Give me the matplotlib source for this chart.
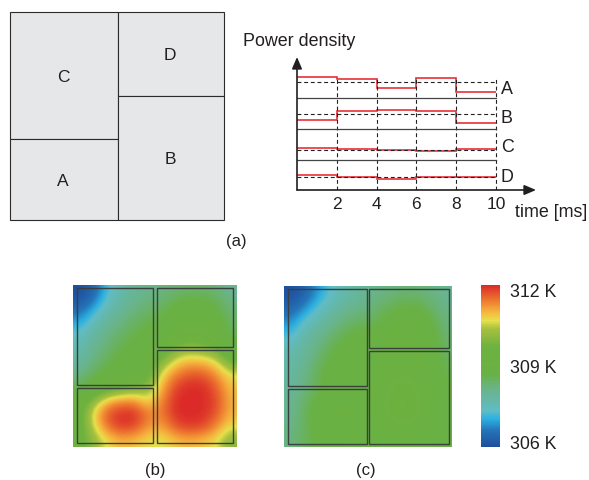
#!/usr/bin/env python3
"""Floorplan, power traces and the two thermal maps, laid out on the original pixel grid."""
import matplotlib
matplotlib.use("Agg")
import matplotlib.pyplot as plt
from matplotlib.colors import LinearSegmentedColormap
from matplotlib.patches import Rectangle
import numpy as np

W, H = 589, 481
plt.rcParams["font.family"] = ["Liberation Sans", "DejaVu Sans"]

# (name, x0, y0, x1, y1) in image pixels
FLOORPLAN = [("C", 10, 13, 118, 140), ("D", 118, 13, 224, 97),
             ("A", 10, 140, 118, 221), ("B", 118, 97, 224, 221)]

# power traces: each level is height (px-ish units) above that block's own baseline
TIME_EDGES = [0, 2, 4, 6, 8, 10]
BLOCKS = ["A", "B", "C", "D"]
BASELINES = [92.0, 61.3, 30.3, 0.0]
AVERAGES = [15.7, 14.7, 10.0, 13.3]
LABEL_Y = [102, 73, 44, 14]
POWER_A = [20.7, 19.0, 9.7, 19.7, 6.3]
POWER_B = [9.0, 17.3, 18.7, 17.3, 5.7]
POWER_C = [12.0, 10.3, 10.0, 8.3, 10.3]
POWER_D = [14.7, 13.3, 11.3, 13.3, 13.3]
POWERS = [POWER_A, POWER_B, POWER_C, POWER_D]

# thermal maps in kelvin, coarse grid (top row first)
TEMP_B = np.array([
    [306.0, 306.3, 307.2, 307.7, 308.0, 308.1, 308.2, 308.3, 308.4, 308.4, 308.3, 308.0],
    [306.3, 306.8, 307.5, 307.9, 308.1, 308.3, 308.4, 308.8, 308.9, 308.9, 308.7, 308.2],
    [306.8, 307.4, 307.9, 308.1, 308.4, 308.6, 308.7, 309.0, 309.1, 309.1, 308.9, 308.4],
    [307.3, 307.8, 308.1, 308.4, 308.6, 308.8, 308.8, 309.2, 309.4, 309.4, 309.1, 308.5],
    [307.6, 308.0, 308.3, 308.6, 308.8, 309.0, 309.1, 309.7, 309.9, 309.8, 309.4, 308.8],
    [307.8, 308.2, 308.5, 308.8, 309.0, 309.1, 309.8, 310.6, 310.9, 310.8, 310.6, 309.5],
    [308.1, 308.5, 308.8, 309.0, 309.1, 309.4, 310.7, 311.3, 311.6, 311.6, 311.2, 310.6],
    [308.5, 308.9, 309.1, 309.4, 309.7, 310.0, 311.0, 311.8, 312.0, 312.0, 311.6, 310.9],
    [309.2, 310.0, 310.9, 311.2, 311.2, 310.6, 311.3, 312.0, 312.0, 312.0, 311.8, 311.0],
    [309.4, 310.8, 311.7, 312.0, 312.0, 311.4, 311.4, 312.0, 312.0, 312.0, 311.7, 311.0],
    [309.4, 310.6, 311.5, 311.9, 311.8, 311.2, 311.1, 311.7, 311.9, 311.8, 311.3, 310.7],
    [309.5, 310.1, 310.7, 311.0, 310.9, 310.7, 310.6, 310.9, 311.0, 310.9, 310.7, 310.0],
])
TEMP_C = np.array([
    [306.0, 306.3, 306.9, 307.4, 307.7, 307.9, 308.1, 308.2, 308.3, 308.3, 308.2, 308.0],
    [306.3, 306.7, 307.3, 307.7, 308.0, 308.1, 308.3, 308.5, 308.7, 308.7, 308.4, 308.1],
    [306.7, 307.3, 307.7, 308.0, 308.3, 308.4, 308.5, 308.8, 309.0, 309.0, 308.7, 308.2],
    [307.1, 307.7, 308.0, 308.3, 308.6, 308.8, 308.8, 309.1, 309.3, 309.2, 308.9, 308.3],
    [307.5, 307.9, 308.2, 308.6, 308.9, 309.0, 309.0, 309.2, 309.3, 309.2, 309.0, 308.4],
    [307.7, 308.0, 308.4, 308.8, 309.0, 309.0, 309.0, 309.1, 309.2, 309.1, 309.0, 308.5],
    [307.8, 308.1, 308.6, 309.0, 309.0, 309.0, 309.0, 309.2, 309.3, 309.2, 309.0, 308.6],
    [307.9, 308.2, 308.6, 309.0, 309.0, 309.0, 309.1, 309.3, 309.5, 309.3, 309.0, 308.7],
    [308.0, 308.4, 308.8, 309.0, 309.0, 309.0, 309.1, 309.4, 309.6, 309.4, 309.1, 308.7],
    [308.0, 308.5, 309.0, 309.1, 309.1, 309.0, 309.1, 309.4, 309.6, 309.4, 309.0, 308.6],
    [308.1, 308.5, 308.9, 309.0, 309.0, 309.0, 309.0, 309.2, 309.3, 309.2, 309.0, 308.7],
    [308.2, 308.5, 308.8, 308.9, 308.9, 308.9, 308.9, 309.0, 309.0, 309.0, 308.9, 308.7],
])
BLOCKS_B = [(77, 289, 153, 386), (156.7, 289, 232.7, 347.7),
            (156.7, 351, 232.7, 443.7), (77, 389.3, 153, 443.7)]
BLOCKS_C = [(288, 290, 366.7, 387.3), (369.3, 290, 448.7, 348.7),
            (369.3, 352, 448.7, 445.3), (288, 390.3, 366.7, 445.3)]
TEMP_MIN, TEMP_MAX = 306, 312

THERMAL = LinearSegmentedColormap.from_list("thermal", [
    (0.00, "#1f4f9e"), (0.10, "#2574b8"), (0.17, "#2bb0e0"), (0.22, "#60bcc6"),
    (0.35, "#69b48c"), (0.45, "#69b145"), (0.62, "#6eb23f"), (0.73, "#a6c03f"),
    (0.78, "#e6e04b"), (0.83, "#f5b93f"), (0.90, "#ee7d30"), (1.00, "#db2a28"),
])


def px_axes(fig, x0, y0, x1, y1):
    """Axes placed by image pixels (y measured from the top)."""
    return fig.add_axes([x0 / W, 1 - y1 / H, (x1 - x0) / W, (y1 - y0) / H])


def thermal_map(fig, extent, temps, blocks):
    x0, y0, x1, y1 = extent
    ax = px_axes(fig, x0, y0, x1, y1)
    ax.imshow(temps, cmap=THERMAL, vmin=TEMP_MIN, vmax=TEMP_MAX, aspect="auto",
              interpolation="bicubic", extent=(x0, x1, y1, y0))
    for bx0, by0, bx1, by1 in blocks:
        ax.add_patch(Rectangle((bx0, by0), bx1 - bx0, by1 - by0, fill=False,
                               ec="#3a3f3f", lw=1.0))
    ax.axis("off")
    return ax


def main():
    fig = plt.figure(figsize=(W / 100, H / 100), dpi=100)

    # full-figure overlay for the floorplan and loose captions
    bg = fig.add_axes([0, 0, 1, 1])
    bg.set_xlim(0, W)
    bg.set_ylim(H, 0)
    bg.axis("off")
    for name, x0, y0, x1, y1 in FLOORPLAN:
        bg.add_patch(Rectangle((x0, y0), x1 - x0, y1 - y0, fc="#e6e7e8", ec="#2b2b2b", lw=0.8))
        bg.text((x0 + x1) / 2 - 1, (y0 + y1) / 2 + 1, name, ha="center", va="center",
                fontsize=12.5, color="#231f20")
    bg.text(243, 41, "Power density", ha="left", va="center", fontsize=12.9, color="#231f20")
    bg.text(515, 213, "time [ms]", ha="left", va="center", fontsize=12.9, color="#231f20")
    for label, x, y in [("(a)", 236, 242), ("(b)", 155, 471), ("(c)", 366, 471)]:
        bg.text(x, y, label, ha="center", va="center", fontsize=12, color="#231f20")

    # power traces
    ax = px_axes(fig, 297, 58, 536, 191)
    ax.set_xlim(0, 239 / 19.9)
    ax.set_ylim(0, 133)
    ax.patch.set_alpha(0)
    for spine in ax.spines.values():
        spine.set_visible(False)
    top = BASELINES[0] + max(POWER_A)
    ax.vlines(TIME_EDGES[1:], 0, top, color="#222222", lw=0.8, ls=(0, (3.5, 2.5)))
    for name, base, avg, power, label_y in zip(BLOCKS, BASELINES, AVERAGES, POWERS, LABEL_Y):
        ax.plot([TIME_EDGES[0], TIME_EDGES[-1]], [base] * 2, color="#444444", lw=0.9)
        ax.plot([TIME_EDGES[0], TIME_EDGES[-1]], [base + avg] * 2, color="#222222", lw=0.8,
                ls=(0, (3.5, 2.5)))
        levels = np.array(power) + base
        ax.stairs(levels, TIME_EDGES, baseline=None, color="#e8303a", lw=1.2)
        ax.text(10.24, label_y, name, ha="left", va="center", fontsize=12.9, color="#231f20")
    arrow = dict(arrowstyle="-|>,head_length=0.7,head_width=0.3", color="#231f20", lw=1.2,
                 shrinkA=0, shrinkB=0)
    ax.annotate("", xy=(0, 1), xytext=(0, 0), xycoords="axes fraction", arrowprops=arrow)
    ax.annotate("", xy=(1, 0), xytext=(0, 0), xycoords="axes fraction", arrowprops=arrow)
    ax.set_xticks(TIME_EDGES[1:])
    ax.set_yticks([])
    ax.tick_params(axis="x", length=0, pad=4, labelsize=12.5, labelcolor="#231f20")

    thermal_map(fig, (73.3, 286, 236.7, 447.7), TEMP_B, BLOCKS_B)
    thermal_map(fig, (284, 286.7, 452, 447.7), TEMP_C, BLOCKS_C)

    # colour scale
    cax = px_axes(fig, 481, 286, 500, 447.7)
    sm = plt.cm.ScalarMappable(norm=plt.Normalize(TEMP_MIN, TEMP_MAX), cmap=THERMAL)
    cbar = fig.colorbar(sm, cax=cax)
    cbar.outline.set_visible(False)
    cbar.set_ticks([306.2, 309, 311.85], labels=["306 K", "309 K", "312 K"])
    cbar.ax.tick_params(length=0, pad=7, labelsize=12.8, labelcolor="#231f20")

    fig.savefig("out.png", dpi=100)


if __name__ == "__main__":
    main()
